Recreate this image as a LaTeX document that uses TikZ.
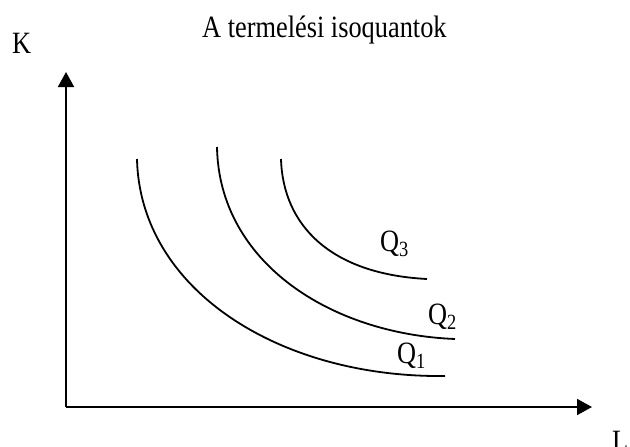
\documentclass[tikz,border=0pt]{standalone}
\usepackage{fontspec}
\setmainfont{Liberation Serif}[FakeStretch=0.85]
\usetikzlibrary{arrows.meta}
\begin{document}
\begin{tikzpicture}[x=1pt,y=-1pt,
  axis/.style={line width=1.9pt,-{Triangle[length=15pt,width=16pt]}},
  iso/.style={line width=1.8pt},
  lbl/.style={inner sep=0pt,anchor=base west,font=\fontsize{31}{36}\selectfont}]
\useasboundingbox (0,0) rectangle (630,447);
\coordinate (O) at (66,407);
\coordinate (ytip) at (66,72);
\coordinate (xtip) at (592,407);
\draw[axis] (O) -- (ytip);
\draw[axis] (O) -- (xtip);
\node[lbl] (title) at (202,37) {A termelési isoquantok};
\node[lbl] (K) at (12,53) {K};
\node[lbl] (L) at (612,451) {L};
\draw[iso] (137,159) .. controls (140,290) and (280,378) .. (445,376);
\draw[iso] (217,147) .. controls (219,262) and (330,334) .. (455,339);
\draw[iso] (281,159) .. controls (283,225) and (330,274) .. (427,279);
\node[lbl] (q3) at (380,251) {Q\textsubscript{3}};
\node[lbl] (q2) at (428,324) {Q\textsubscript{2}};
\node[lbl] (q1) at (397,363) {Q\textsubscript{1}};
\end{tikzpicture}
\end{document}
